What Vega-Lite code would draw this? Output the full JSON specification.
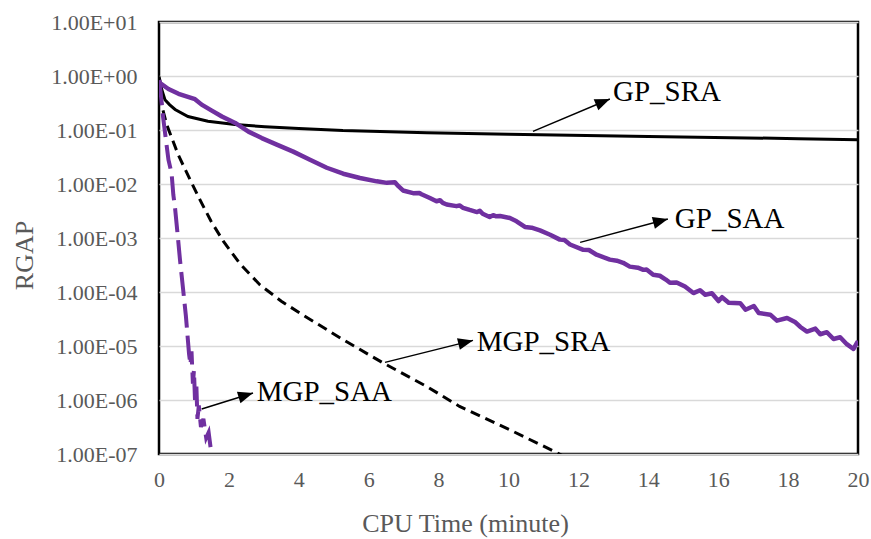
{
  "$schema": "https://vega.github.io/schema/vega-lite/v6.json",
  "width": 699,
  "height": 432,
  "autosize": {"type": "none"},
  "padding": {"left": 159, "top": 22, "right": 13, "bottom": 85},
  "background": "white",
  "config": {
    "view": {"stroke": "black", "strokeWidth": 2.5},
    "font": "Liberation Serif",
    "axis": {"labelFont": "Liberation Serif", "titleFont": "Liberation Serif"}
  },
  "datasets": {
    "gpsra": [
      {"t": 0, "v": 0.98}, {"t": 0.03, "v": 0.794}, {"t": 0.08, "v": 0.556}, {"t": 0.17, "v": 0.363},
      {"t": 0.3, "v": 0.295}, {"t": 0.46, "v": 0.24}, {"t": 0.83, "v": 0.178}, {"t": 1.4, "v": 0.145},
      {"t": 2.17, "v": 0.126}, {"t": 3.03, "v": 0.115}, {"t": 4.0, "v": 0.107}, {"t": 5.26, "v": 0.0977},
      {"t": 7.66, "v": 0.0891}, {"t": 10.0, "v": 0.0832}, {"t": 14.0, "v": 0.0759}, {"t": 18.3, "v": 0.0692},
      {"t": 20.0, "v": 0.0661}
    ],
    "gpsaa": [
      {"t": 0, "v": 0.832}, {"t": 0.03, "v": 0.741}, {"t": 0.27, "v": 0.575}, {"t": 0.56, "v": 0.468},
      {"t": 0.85, "v": 0.407}, {"t": 1.03, "v": 0.372}, {"t": 1.22, "v": 0.295}, {"t": 1.51, "v": 0.229},
      {"t": 1.8, "v": 0.178}, {"t": 2.18, "v": 0.135}, {"t": 2.56, "v": 0.0933}, {"t": 2.94, "v": 0.0708},
      {"t": 3.37, "v": 0.0537}, {"t": 3.84, "v": 0.0398}, {"t": 4.32, "v": 0.0282}, {"t": 4.8, "v": 0.02},
      {"t": 5.27, "v": 0.0155}, {"t": 5.75, "v": 0.0129}, {"t": 6.23, "v": 0.0112}, {"t": 6.52, "v": 0.0105},
      {"t": 6.75, "v": 0.0108}, {"t": 6.85, "v": 0.00912}, {"t": 6.98, "v": 0.00759}, {"t": 7.27, "v": 0.00676},
      {"t": 7.45, "v": 0.0068}, {"t": 7.51, "v": 0.00646}, {"t": 7.75, "v": 0.0055}, {"t": 7.94, "v": 0.00479},
      {"t": 8.04, "v": 0.005}, {"t": 8.12, "v": 0.00447}, {"t": 8.23, "v": 0.00417}, {"t": 8.51, "v": 0.00389},
      {"t": 8.6, "v": 0.004}, {"t": 8.7, "v": 0.00363}, {"t": 8.89, "v": 0.00331}, {"t": 9.1, "v": 0.00302},
      {"t": 9.18, "v": 0.0032}, {"t": 9.26, "v": 0.00282}, {"t": 9.46, "v": 0.00245}, {"t": 9.56, "v": 0.00265},
      {"t": 9.65, "v": 0.00252}, {"t": 9.76, "v": 0.00255}, {"t": 10.04, "v": 0.00234}, {"t": 10.23, "v": 0.00204},
      {"t": 10.47, "v": 0.0016}, {"t": 10.66, "v": 0.00155}, {"t": 10.9, "v": 0.00138}, {"t": 11.19, "v": 0.00115},
      {"t": 11.47, "v": 0.000933}, {"t": 11.6, "v": 0.00092}, {"t": 11.76, "v": 0.000759}, {"t": 12.14, "v": 0.000603},
      {"t": 12.3, "v": 0.000600}, {"t": 12.52, "v": 0.00049}, {"t": 12.9, "v": 0.000398}, {"t": 13.1, "v": 0.000380},
      {"t": 13.28, "v": 0.000347}, {"t": 13.47, "v": 0.000295}, {"t": 13.7, "v": 0.000282}, {"t": 13.86, "v": 0.000257},
      {"t": 13.95, "v": 0.000262}, {"t": 14.14, "v": 0.000209}, {"t": 14.33, "v": 0.000200}, {"t": 14.5, "v": 0.00017},
      {"t": 14.62, "v": 0.000148}, {"t": 14.81, "v": 0.00015}, {"t": 15.05, "v": 0.000126}, {"t": 15.29, "v": 0.0000955},
      {"t": 15.48, "v": 0.000108}, {"t": 15.63, "v": 0.0000891}, {"t": 15.82, "v": 0.000095}, {"t": 16.01, "v": 0.000068},
      {"t": 16.11, "v": 0.00008}, {"t": 16.3, "v": 0.0000631}, {"t": 16.63, "v": 0.000062}, {"t": 16.78, "v": 0.000047},
      {"t": 17.02, "v": 0.000055}, {"t": 17.16, "v": 0.0000407}, {"t": 17.49, "v": 0.000038}, {"t": 17.68, "v": 0.0000295},
      {"t": 17.97, "v": 0.000033}, {"t": 18.21, "v": 0.0000275}, {"t": 18.35, "v": 0.0000225}, {"t": 18.54, "v": 0.0000185},
      {"t": 18.78, "v": 0.000021}, {"t": 18.92, "v": 0.0000165}, {"t": 19.11, "v": 0.000018}, {"t": 19.3, "v": 0.0000135},
      {"t": 19.49, "v": 0.0000145}, {"t": 19.68, "v": 0.0000108}, {"t": 19.87, "v": 0.0000088}, {"t": 19.97, "v": 0.0000115},
      {"t": 20.0, "v": 0.00001}
    ],
    "mgpsra": [
      {"t": 0, "v": 0.891}, {"t": 0.03, "v": 0.501}, {"t": 0.1, "v": 0.251}, {"t": 0.22, "v": 0.126},
      {"t": 0.55, "v": 0.0347}, {"t": 0.89, "v": 0.012}, {"t": 1.17, "v": 0.00513}, {"t": 1.49, "v": 0.00204},
      {"t": 1.84, "v": 0.000871}, {"t": 2.32, "v": 0.000331}, {"t": 2.89, "v": 0.000135}, {"t": 3.5, "v": 0.0000676},
      {"t": 4.03, "v": 0.0000407}, {"t": 5.26, "v": 0.0000132}, {"t": 6.4, "v": 0.0000049}, {"t": 7.66, "v": 0.00000178},
      {"t": 8.6, "v": 7.59e-7}, {"t": 10.03, "v": 2.82e-7}, {"t": 11.37, "v": 1.07e-7}, {"t": 11.6, "v": 8.91e-8}
    ],
    "mgpsaa": [
      {"t": 0, "v": 0.794}, {"t": 0.03, "v": 0.631}, {"t": 0.12, "v": 0.166}, {"t": 0.27, "v": 0.0282},
      {"t": 0.36, "v": 0.0158}, {"t": 0.41, "v": 0.00631}, {"t": 0.46, "v": 0.00355}, {"t": 0.55, "v": 0.000891},
      {"t": 0.6, "v": 0.000398}, {"t": 0.69, "v": 0.000112}, {"t": 0.77, "v": 0.0000355}, {"t": 0.86, "v": 0.00000708},
      {"t": 0.9, "v": 0.00000447}, {"t": 0.93, "v": 0.00000794}, {"t": 0.97, "v": 0.000002}, {"t": 1.0, "v": 0.00000355},
      {"t": 1.03, "v": 0.000001}, {"t": 1.07, "v": 0.00000178}, {"t": 1.1, "v": 4.47e-7}, {"t": 1.14, "v": 7.94e-7},
      {"t": 1.2, "v": 3.16e-7}, {"t": 1.27, "v": 4.47e-7}, {"t": 1.35, "v": 2.0e-7}, {"t": 1.42, "v": 2.51e-7},
      {"t": 1.5, "v": 1.0e-7}, {"t": 1.55, "v": 7.94e-8}
    ],
    "arrows": [
      {"name": "GP_SRA", "t": 10.7, "v": 0.0942, "t2": 12.9, "v2": 0.375},
      {"name": "GP_SAA", "t": 12.05, "v": 0.00083, "t2": 14.56, "v2": 0.00225},
      {"name": "MGP_SRA", "t": 6.466, "v": 0.00000497, "t2": 8.984, "v2": 0.0000127},
      {"name": "MGP_SAA", "t": 1.222, "v": 6.81e-7, "t2": 2.69, "v2": 0.00000135}
    ],
    "labels": [
      {"name": "GP_SRA", "t": 12.99, "v": 0.339},
      {"name": "GP_SAA", "t": 14.76, "v": 0.00153},
      {"name": "MGP_SRA", "t": 9.09, "v": 0.00000794},
      {"name": "MGP_SAA", "t": 2.795, "v": 9.42e-7}
    ]
  },
  "encoding": {
    "x": {
      "field": "t", "type": "quantitative",
      "scale": {"domain": [0, 20], "nice": false, "zero": false},
      "axis": {
        "values": [0, 2, 4, 6, 8, 10, 12, 14, 16, 18, 20],
        "grid": false, "ticks": false, "domain": false,
        "labelFlush": false, "labelOverlap": false,
        "labelFontSize": 22, "labelColor": "#595959", "labelPadding": 15,
        "title": "CPU Time (minute)", "titleFontSize": 26, "titleColor": "#595959",
        "titleFontWeight": "normal", "titleX": 306, "titleY": 69,
        "titleBaseline": "middle", "titleAlign": "center"
      }
    },
    "y": {
      "field": "v", "type": "quantitative",
      "scale": {"type": "log", "domain": [1e-7, 10], "nice": false},
      "axis": {
        "values": [1e-7, 1e-6, 1e-5, 1e-4, 1e-3, 1e-2, 1e-1, 1, 10],
        "labelExpr": "'1.00E' + (datum.value >= 1 ? '+' : '-') + pad(toString(abs(round(log(datum.value) / LN10))), 2, '0', 'left')",
        "grid": true, "gridColor": "#D9D9D9", "gridWidth": 1.5,
        "ticks": false, "domain": false, "labelOverlap": false,
        "labelFontSize": 22, "labelColor": "#595959", "labelPadding": 22,
        "title": "RGAP", "titleFontSize": 26, "titleColor": "#595959",
        "titleFontWeight": "normal", "titleX": -135, "titleY": 233, "titleAngle": -90,
        "titleBaseline": "middle", "titleAlign": "center"
      }
    }
  },
  "layer": [
    {"data": {"name": "gpsra"}, "mark": {"type": "line", "color": "black", "strokeWidth": 3, "clip": true}},
    {"data": {"name": "mgpsra"}, "mark": {"type": "line", "color": "black", "strokeWidth": 3, "strokeDash": [10, 6], "clip": true}},
    {"data": {"name": "gpsaa"}, "mark": {"type": "line", "color": "#7030A0", "strokeWidth": 4.5, "clip": true, "strokeJoin": "round"}},
    {"data": {"name": "mgpsaa"}, "mark": {"type": "line", "color": "#7030A0", "strokeWidth": 4, "strokeDash": [24, 8], "clip": true}},
    {"data": {"name": "arrows"}, "mark": {"type": "rule", "color": "black", "strokeWidth": 1.5}, "encoding": {"x2": {"field": "t2"}, "y2": {"field": "v2"}}},
    {"data": {"name": "arrows"}, "transform": [{"filter": "datum.name === 'GP_SRA'"}],
     "mark": {"type": "point", "shape": "M0,0L-2,-0.8L-2,0.8Z", "filled": true, "color": "black", "opacity": 1, "size": 225, "angle": 337.2},
     "encoding": {"x": {"field": "t2", "type": "quantitative"}, "y": {"field": "v2", "type": "quantitative"}}},
    {"data": {"name": "arrows"}, "transform": [{"filter": "datum.name === 'GP_SAA'"}],
     "mark": {"type": "point", "shape": "M0,0L-2,-0.8L-2,0.8Z", "filled": true, "color": "black", "opacity": 1, "size": 225, "angle": 345.1},
     "encoding": {"x": {"field": "t2", "type": "quantitative"}, "y": {"field": "v2", "type": "quantitative"}}},
    {"data": {"name": "arrows"}, "transform": [{"filter": "datum.name === 'MGP_SRA'"}],
     "mark": {"type": "point", "shape": "M0,0L-2,-0.8L-2,0.8Z", "filled": true, "color": "black", "opacity": 1, "size": 225, "angle": 346.0},
     "encoding": {"x": {"field": "t2", "type": "quantitative"}, "y": {"field": "v2", "type": "quantitative"}}},
    {"data": {"name": "arrows"}, "transform": [{"filter": "datum.name === 'MGP_SAA'"}],
     "mark": {"type": "point", "shape": "M0,0L-2,-0.8L-2,0.8Z", "filled": true, "color": "black", "opacity": 1, "size": 225, "angle": 342.7},
     "encoding": {"x": {"field": "t2", "type": "quantitative"}, "y": {"field": "v2", "type": "quantitative"}}},
    {"data": {"name": "labels"}, "mark": {"type": "text", "align": "left", "baseline": "alphabetic", "font": "Liberation Serif", "fontSize": 29, "color": "black"},
     "encoding": {"text": {"field": "name"}}}
  ]
}
